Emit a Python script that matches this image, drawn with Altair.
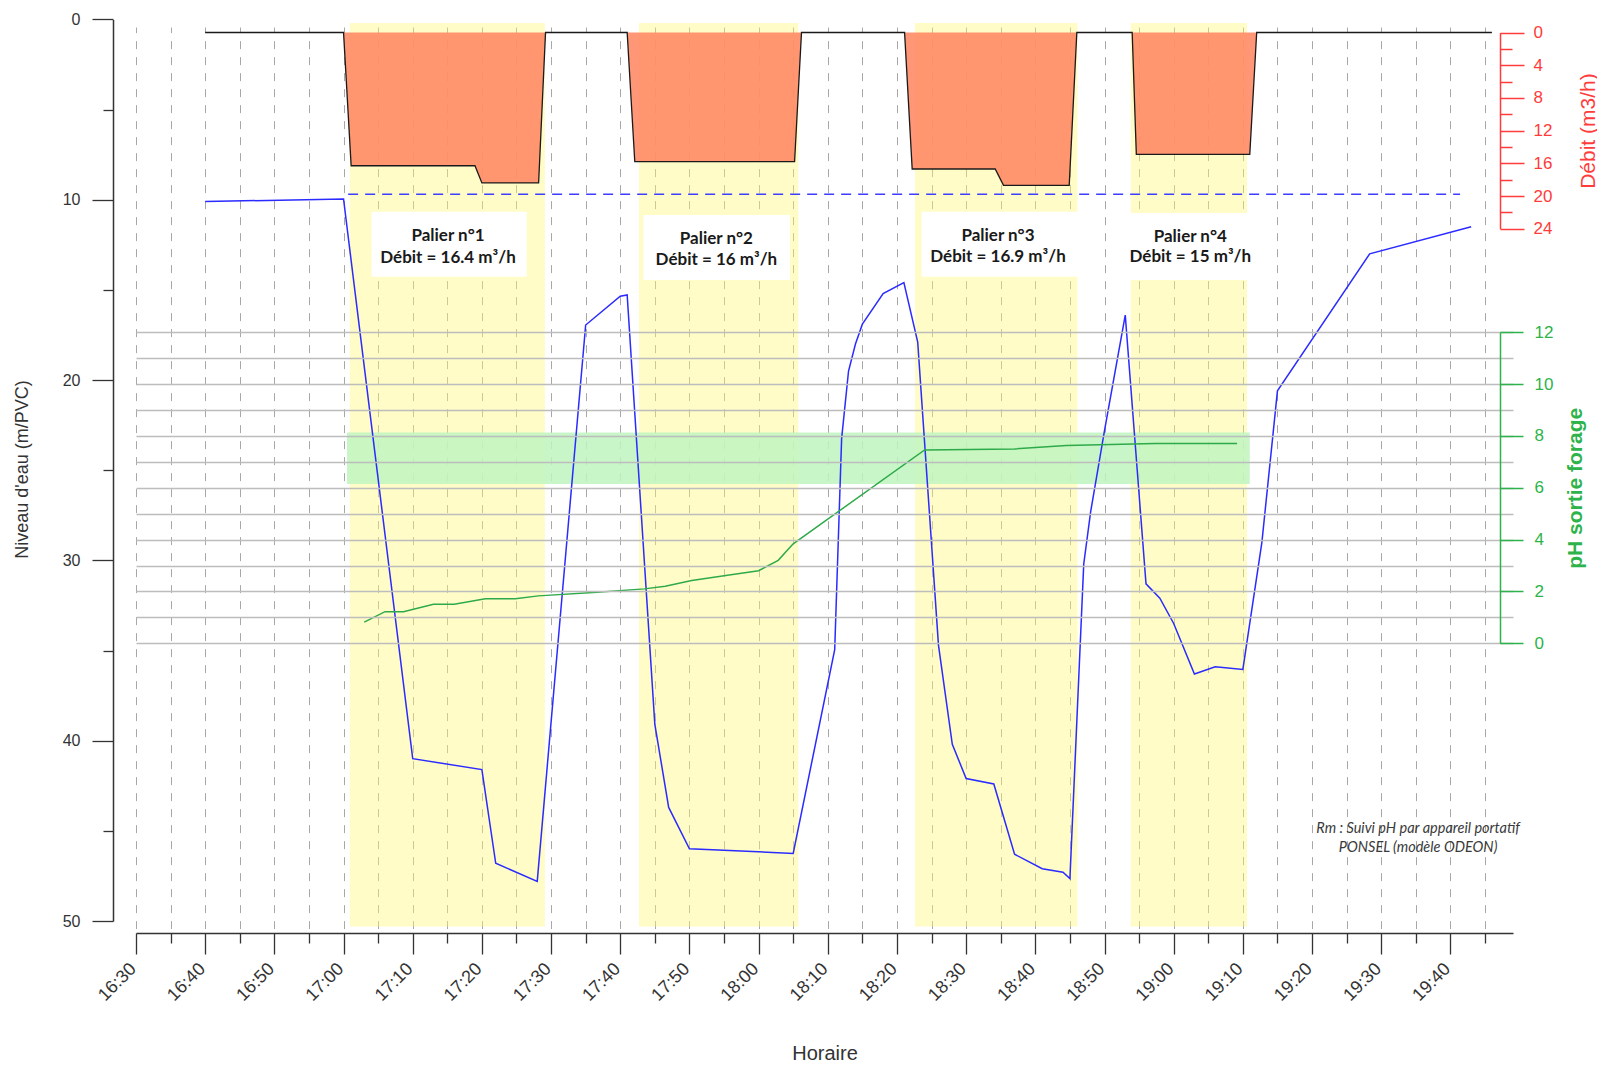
import altair as alt
import pandas as pd

DAY = "2024-01-01T"
FONT = "Liberation Sans"


def ts(values):
    return [DAY + v for v in values]


def dt(hhmm):
    parts = [int(p) for p in hhmm.split(":")]
    while len(parts) < 3:
        parts.append(0)
    return alt.DateTime(year=2024, month=1, date=1, hours=parts[0], minutes=parts[1], seconds=parts[2])


# ---------------- data ----------------
# Water level (m/PVC)
level_times = ["16:40:00", "17:00:00", "17:10:00", "17:20:00", "17:22:00", "17:28:00", "17:35:00",
               "17:40:00", "17:41:00", "17:45:00", "17:47:00", "17:50:00", "18:05:00", "18:11:00",
               "18:12:00", "18:13:00", "18:14:00", "18:15:00", "18:18:00", "18:21:00", "18:23:00",
               "18:26:00", "18:28:00", "18:30:00", "18:34:00", "18:37:00", "18:41:00", "18:44:00",
               "18:45:00", "18:47:00", "18:48:00", "18:50:00", "18:53:00", "18:56:00", "18:58:00",
               "19:00:00", "19:03:00", "19:06:00", "19:10:00", "19:12:45", "19:15:00", "19:28:20",
               "19:43:00"]
level_values = [10.1, 9.96, 41.0, 41.6, 46.8, 47.8, 16.95,
                15.35, 15.28, 39.1, 43.7, 46.0, 46.25, 34.95,
                23.25, 19.5, 18.0, 16.9, 15.2, 14.6, 17.9,
                34.7, 40.2, 42.1, 42.4, 46.3, 47.1, 47.3,
                47.65, 30.2, 27.3, 22.8, 16.4, 31.3, 32.1,
                33.5, 36.3, 35.9, 36.05, 29.0, 20.6, 13.0,
                11.5]

# Pumping rate (m3/h)
debit_times = ["16:40:00", "17:00:00", "17:01:06", "17:19:00", "17:20:00", "17:28:12", "17:29:12",
               "17:41:00", "17:42:06", "18:05:12", "18:06:12", "18:21:06", "18:22:12", "18:34:12",
               "18:35:24", "18:44:54", "18:46:00", "18:54:00", "18:54:36", "19:11:00", "19:12:00",
               "19:46:00"]
debit_values = [0, 0, 16.3, 16.3, 18.4, 18.4, 0,
                0, 15.8, 15.8, 0, 0, 16.7, 16.7,
                18.7, 18.7, 0, 0, 14.9, 14.9, 0,
                0]

# pH at well outlet
ph_times = ["17:03:00", "17:06:00", "17:08:40", "17:13:00", "17:16:00", "17:20:30", "17:24:50",
            "17:28:10", "17:36:40", "17:43:30", "17:46:30", "17:50:20", "17:55:30", "18:00:00",
            "18:02:50", "18:05:00", "18:24:00", "18:37:00", "18:44:30", "18:57:20", "19:09:10"]
ph_values = [0.82, 1.22, 1.22, 1.51, 1.51, 1.72, 1.72,
             1.83, 1.97, 2.1, 2.2, 2.42, 2.63, 2.8,
             3.2, 3.84, 7.46, 7.5, 7.63, 7.71, 7.71]

# Pumping steps (paliers)
palier_names = ["Palier n°1", "Palier n°2", "Palier n°3", "Palier n°4"]
palier_debit_labels = ["Débit = 16.4 m³/h", "Débit =  16 m³/h", "Débit = 16.9 m³/h", "Débit = 15 m³/h"]
palier_start = ["17:00:54", "17:42:42", "18:22:36", "18:53:48"]
palier_end = ["17:29:06", "18:05:45", "18:46:06", "19:10:36"]
palier_level_top = 0.2
palier_level_bottom = 50.3

# label boxes
box_start = ["17:04:04", "17:43:20", "18:23:34", "18:52:12"]
box_end = ["17:26:28", "18:04:32", "18:46:10", "19:12:06"]
box_level_top = [10.67, 10.85, 10.67, 10.74]
box_level_bottom = [14.27, 14.45, 14.27, 14.45]
label_times = ["17:15:06", "17:53:54", "18:34:36", "19:02:24"]
label_level_line1 = [12.0, 12.18, 12.0, 12.04]
label_level_line2 = [13.25, 13.34, 13.19, 13.18]

# pH target band
ph_band_start = "17:00:30"
ph_band_end = "19:11:00"
ph_band_low = 6.15
ph_band_high = 8.13

# static level (dashed)
static_level = 9.7
static_start = "17:00:40"
static_end = "19:41:24"

# note
note_lines = ["Rm : Suivi pH par appareil portatif", "PONSEL (modèle ODEON)"]
note_time = "19:35:20"
note_levels = [44.9, 45.95]

# axes ticks
x_major_ticks = ["16:30", "16:40", "16:50", "17:00", "17:10", "17:20", "17:30", "17:40", "17:50", "18:00",
                 "18:10", "18:20", "18:30", "18:40", "18:50", "19:00", "19:10", "19:20", "19:30", "19:40"]
x_minor_ticks = ["16:35", "16:45", "16:55", "17:05", "17:15", "17:25", "17:35", "17:45", "17:55", "18:05",
                 "18:15", "18:25", "18:35", "18:45", "18:55", "19:05", "19:15", "19:25", "19:35", "19:45"]
x_domain = ["16:30:00", "19:49:03"]
level_major_ticks = [0, 10, 20, 30, 40, 50]
level_minor_ticks = [5, 15, 25, 35, 45]
debit_major_ticks = [0, 4, 8, 12, 16, 20, 24]
debit_minor_ticks = [2, 6, 10, 14, 18, 22]
ph_major_ticks = [0, 2, 4, 6, 8, 10, 12]
ph_all_ticks = list(range(0, 13))

# ---------------- frames ----------------
level_df = pd.DataFrame({"t": ts(level_times), "level": level_values})
debit_df = pd.DataFrame({"t": ts(debit_times), "debit": debit_values})
ph_df = pd.DataFrame({"t": ts(ph_times), "ph": ph_values})
palier_df = pd.DataFrame({"start": ts(palier_start), "end": ts(palier_end),
                          "top": [palier_level_top] * 4, "bottom": [palier_level_bottom] * 4})
box_df = pd.DataFrame({"start": ts(box_start), "end": ts(box_end),
                       "top": box_level_top, "bottom": box_level_bottom})
label_df = pd.DataFrame({
    "t": ts(label_times) * 2,
    "level": label_level_line1 + label_level_line2,
    "txt": palier_names + palier_debit_labels,
})
band_df = pd.DataFrame({"start": ts([ph_band_start]), "end": ts([ph_band_end]),
                        "low": [ph_band_low], "high": [ph_band_high]})
static_df = pd.DataFrame({"start": ts([static_start]), "end": ts([static_end]), "level": [static_level]})
note_df = pd.DataFrame({"t": ts([note_time] * 2), "level": note_levels, "txt": note_lines})

# ---------------- scales ----------------
x_scale = alt.Scale(domain=[dt(x_domain[0]), dt(x_domain[1])], range=[23, 1400])
level_scale = alt.Scale(domain=[0, 50], range=[4.4, 906], nice=False, zero=False)
debit_scale = alt.Scale(domain=[0, 24], range=[17.5, 213.7], nice=False, zero=False)
ph_scale = alt.Scale(domain=[0, 12], range=[628.3, 317.3], nice=False, zero=False)

RED = "#ff3b3b"
GREEN = "#2db34a"
AX = "#333333"

x_grid_axis = alt.Axis(values=[dt(v) for v in sorted(x_major_ticks + x_minor_ticks)], grid=True,
                       gridColor="#a8a8a8", gridDash=[8, 8], gridWidth=1, ticks=False, labels=False,
                       domain=False, title=None, orient="bottom")
x_major_axis = alt.Axis(values=[dt(v) for v in x_major_ticks], format="%H:%M", labelAngle=315,
                        labelAlign="right", labelBaseline="middle", labelFontSize=18, labelColor=AX,
                        labelPadding=12, labelOffset=-3, labelOverlap=False, labelFlush=False,
                        tickSize=21, tickColor=AX, tickWidth=1.3, domainColor=AX, domainWidth=1.5,
                        grid=False, title="Horaire", titleFontSize=20, titleFontWeight="normal",
                        titleColor=AX, titleX=711.5, titleY=120, titleBaseline="middle",
                        titleAlign="center", orient="bottom")
x_minor_axis = alt.Axis(values=[dt(v) for v in x_minor_ticks], tickSize=10, tickColor=AX, tickWidth=1.3,
                        labels=False, domain=False, grid=False, title=None, orient="bottom")

level_major_axis = alt.Axis(values=level_major_ticks, orient="left", tickSize=21, tickColor=AX,
                            tickWidth=1.3, domainColor=AX, domainWidth=1.5, labelFontSize=16,
                            labelColor=AX, labelPadding=12, grid=False, title="Niveau d'eau (m/PVC)",
                            titleFontSize=18, titleFontWeight="normal", titleColor=AX, titleAngle=270,
                            titleX=-90.5, titleY=454, titleBaseline="middle", titleAlign="center")
level_minor_axis = alt.Axis(values=level_minor_ticks, orient="left", tickSize=10, tickColor=AX,
                            tickWidth=1.3, labels=False, domain=False, grid=False, title=None)

debit_major_axis = alt.Axis(values=debit_major_ticks, orient="right", offset=-13, tickSize=24,
                            tickColor=RED, tickWidth=1.5, domainColor=RED, domainWidth=1.5,
                            labelFontSize=17, labelColor=RED, labelPadding=9, grid=False,
                            title="Débit (m3/h)", titleFontSize=21, titleFontWeight="normal",
                            titleColor=RED, titleAngle=270, titleX=88, titleY=115.6,
                            titleBaseline="middle", titleAlign="center")
debit_minor_axis = alt.Axis(values=debit_minor_ticks, orient="right", offset=-13, tickSize=12,
                            tickColor=RED, tickWidth=1.5, labels=False, domain=False, grid=False,
                            title=None)

ph_grid_axis = alt.Axis(values=ph_all_ticks, orient="left", grid=True, gridColor="#bdbdbd",
                        gridWidth=1.3, ticks=False, labels=False, domain=False, title=None, zindex=1)
ph_major_axis = alt.Axis(values=ph_major_ticks, orient="right", offset=-13, tickSize=23,
                         tickColor=GREEN, tickWidth=1.5, domainColor=GREEN, domainWidth=1.5,
                         labelFontSize=17, labelColor=GREEN, labelPadding=11, grid=False,
                         title="pH sortie forage", titleFontSize=21, titleFontWeight="bold",
                         titleColor=GREEN, titleAngle=270, titleX=75, titleY=472.8,
                         titleBaseline="middle", titleAlign="center", zindex=2)

# ---------------- layers ----------------
paliers = alt.Chart(palier_df).mark_rect(color="#FFF876", opacity=0.4).encode(
    x=alt.X("start:T", scale=x_scale, axis=x_grid_axis),
    x2="end:T",
    y=alt.Y("top:Q", scale=level_scale, axis=None),
    y2="bottom:Q",
)

ph_band = alt.Chart(band_df).mark_rect(color="#BFF5BF", opacity=0.85).encode(
    x=alt.X("start:T", scale=x_scale, axis=None),
    x2="end:T",
    y=alt.Y("low:Q", scale=ph_scale, axis=ph_grid_axis),
    y2="high:Q",
)

debit_area = alt.Chart(debit_df).mark_area(color="#FF8762", opacity=0.88).encode(
    x=alt.X("t:T", scale=x_scale, axis=x_major_axis),
    y=alt.Y("debit:Q", scale=debit_scale, axis=debit_major_axis),
    y2=alt.datum(0),
)

boxes = alt.Chart(box_df).mark_rect(color="white").encode(
    x=alt.X("start:T", scale=x_scale, axis=x_minor_axis),
    x2="end:T",
    y=alt.Y("top:Q", scale=level_scale, axis=level_minor_axis),
    y2="bottom:Q",
)

static_rule = alt.Chart(static_df).mark_rule(color="#3d3dff", strokeWidth=1.5, strokeDash=[10, 7]).encode(
    x=alt.X("start:T", scale=x_scale, axis=None),
    x2="end:T",
    y=alt.Y("level:Q", scale=level_scale, axis=level_major_axis),
)

debit_line = alt.Chart(debit_df).mark_line(color="#1a1a1a", strokeWidth=1.3).encode(
    x=alt.X("t:T", scale=x_scale, axis=None),
    y=alt.Y("debit:Q", scale=debit_scale, axis=debit_minor_axis),
)

level_line = alt.Chart(level_df).mark_line(color="#2b2bff", strokeWidth=1.5).encode(
    x=alt.X("t:T", scale=x_scale, axis=None),
    y=alt.Y("level:Q", scale=level_scale, axis=None),
)

ph_line = alt.Chart(ph_df).mark_line(color="#2eaa4a", strokeWidth=1.5).encode(
    x=alt.X("t:T", scale=x_scale, axis=None),
    y=alt.Y("ph:Q", scale=ph_scale, axis=ph_major_axis),
)

labels = alt.Chart(label_df).mark_text(font="Lato", fontWeight="bold", fontSize=17, color="#1a1a1a",
                                       align="center", baseline="middle").encode(
    x=alt.X("t:T", scale=x_scale, axis=None),
    y=alt.Y("level:Q", scale=level_scale, axis=None),
    text="txt:N",
)

note = alt.Chart(note_df).mark_text(font="Lato", fontStyle="italic", fontSize=14.5, color="#3a3a3a",
                                    align="center", baseline="middle").encode(
    x=alt.X("t:T", scale=x_scale, axis=None),
    y=alt.Y("level:Q", scale=level_scale, axis=None),
    text="txt:N",
)

chart = alt.layer(
    paliers, ph_band, debit_area, boxes, static_rule, debit_line, level_line, ph_line, labels, note
).resolve_scale(
    y="independent"
).resolve_axis(
    x="independent", y="independent"
).properties(
    width=1400,
    height=918,
    padding={"left": 105, "top": 7, "right": 84, "bottom": 140},
    autosize=alt.AutoSizeParams(type="none"),
    background="white",
).configure_view(
    stroke=None
).configure_axis(
    labelFont=FONT,
    titleFont=FONT,
)

chart.save("out.html", embed_options={"renderer": "svg", "actions": False})
